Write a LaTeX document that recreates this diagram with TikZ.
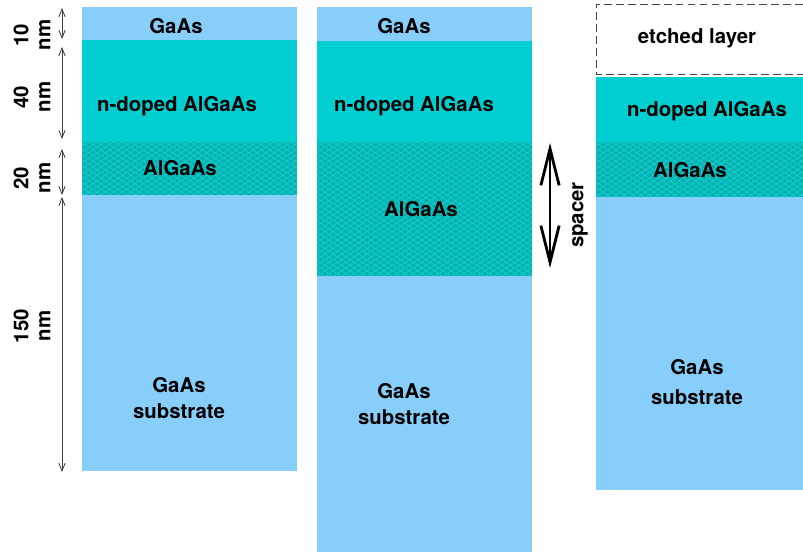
\documentclass[tikz,border=0pt]{standalone}
\usepackage{fontspec}
\setmainfont{TeX Gyre Heros}
\usetikzlibrary{arrows.meta,patterns}

\definecolor{gaasblue}{RGB}{135,206,250}
\definecolor{dopedcyan}{RGB}{0,206,209}
\definecolor{spacerteal}{RGB}{0,178,178}
\definecolor{hatchcyan}{RGB}{24,202,202}
\definecolor{etchgray}{RGB}{70,70,70}

\pgfdeclarepatternformonly{scales}{\pgfpoint{-1pt}{-1pt}}{\pgfpoint{7pt}{5pt}}{\pgfpoint{6pt}{4pt}}{%
  \pgfsetlinewidth{0.6pt}
  \pgfpathmoveto{\pgfpoint{0pt}{0pt}}
  \pgfpathlineto{\pgfpoint{6pt}{4pt}}
  \pgfpathmoveto{\pgfpoint{0pt}{4pt}}
  \pgfpathlineto{\pgfpoint{6pt}{0pt}}
  \pgfusepath{stroke}
}

\tikzset{
  layertext/.style={font=\fontsize{14.5}{18.5}\selectfont\bfseries, align=center, inner sep=0pt},
  gaas/.style={fill=gaasblue},
  doped/.style={fill=dopedcyan},
  hatched/.style={fill=spacerteal, postaction={pattern=scales, pattern color=hatchcyan}},
  dimtext/.style={font=\fontsize{14.5}{15.6}\selectfont\bfseries, align=center, rotate=90, inner sep=0pt},
  dimarrow/.style={{Straight Barb[length=5.5pt,width=4.5pt]}-{Straight Barb[length=5.5pt,width=4.5pt]}, line width=0.6pt, black!75},
  spacerarrow/.style={{Straight Barb[length=26pt,width=13pt,line width=2pt]}-{Straight Barb[length=26pt,width=13pt,line width=2pt]}, line width=0.8pt},
}

\begin{document}
\begin{tikzpicture}[x=0.025cm, y=-0.025cm]
  \useasboundingbox (0,0) rectangle (803,555);

  % as grown
  \fill[gaas]    (82,7)   rectangle (297,40);
  \fill[doped]   (82,40)  rectangle (297,142);
  \fill[hatched] (82,142) rectangle (297,195);
  \fill[gaas]    (82,195) rectangle (297,471);

  \node[layertext] (cap1)   at (176,26)  {GaAs};
  \node[layertext] (doped1) at (177,106) {n-doped AlGaAs};
  \node[layertext] (alg1)   at (180,168) {AlGaAs};
  \node[layertext] (sub1)   at (179,398) {GaAs\\substrate};

  \foreach \name/\a/\b/\ly/\val in {ten/8/39/35/10, forty/47/139/97/40, twenty/149/195/178/20, onefifty/197/472/326/150} {
    \coordinate (\name top) at (62,\a);
    \coordinate (\name bot) at (62,\b);
    \draw[dimarrow] (\name top) -- (\name bot);
    \node[dimtext] (\name label) at (32,\ly) {\val\\nm};
  }

  % thicker spacer
  \fill[gaas]    (317,7)   rectangle (532,41);
  \fill[doped]   (317,41)  rectangle (532,142);
  \fill[hatched] (317,142) rectangle (532,276);
  \fill[gaas]    (317,276) rectangle (532,552);

  \node[layertext] (cap2)   at (404,26)  {GaAs};
  \node[layertext] (doped2) at (414,106) {n-doped AlGaAs};
  \node[layertext] (alg2)   at (421,209) {AlGaAs};
  \node[layertext] (sub2)   at (404,404) {GaAs\\substrate};

  \coordinate (sptop) at (550,143);
  \coordinate (spbot) at (550,268);
  \draw[spacerarrow] (sptop) -- (spbot);
  \node[dimtext] (splabel) at (580,215) {spacer};

  % cap removed
  \draw[etchgray, line width=0.7pt, dash pattern=on 5.5pt off 3pt] (803,4) -- (596,4) -- (596,74) -- (803,74);
  \fill[doped]   (596,77)  rectangle (803,142);
  \fill[hatched] (596,142) rectangle (803,197);
  \fill[gaas]    (596,197) rectangle (803,490);

  \node[layertext] (etched) at (697,38)  {etched layer};
  \node[layertext] (doped3) at (707,111) {n-doped AlGaAs};
  \node[layertext] (alg3)   at (690,170) {AlGaAs};
  \node[layertext] (sub3)   at (697,382) {GaAs\\[3.5pt]substrate};
\end{tikzpicture}
\end{document}
